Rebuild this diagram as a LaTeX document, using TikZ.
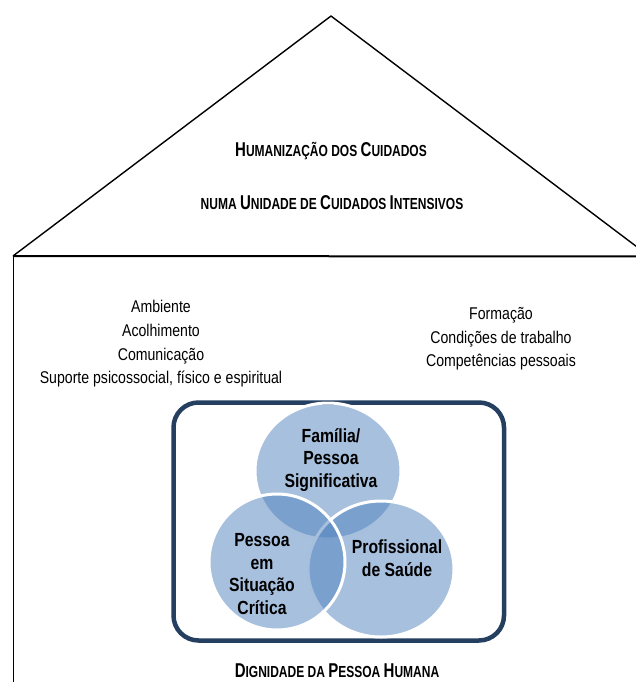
\documentclass[tikz,border=0pt]{standalone}
\usepackage{fontspec}
\setmainfont{Liberation Sans}
\newfontfamily\titlefont[FakeStretch=0.75]{Liberation Sans}
\newfontfamily\bodyfont[FakeStretch=0.83]{Liberation Sans}
\definecolor{framecol}{RGB}{36,63,96}
\definecolor{venncol}{RGB}{79,129,189}
% larger initial letter for the small-caps headings
\newcommand\Initial[1]{{\fontsize{20}{20}\selectfont #1}}
\begin{document}
\begin{tikzpicture}[x=1pt,y=-1pt,
  roofline/.style={line width=1.4pt, line join=round},
  floorline/.style={line width=2pt},
  wallline/.style={line width=1.6pt},
  headtext/.style={font={\titlefont\bfseries\fontsize{16}{16}\selectfont}, inner sep=0pt},
  listtext/.style={font={\bodyfont\fontsize{17}{23.6}\selectfont}, align=center, inner sep=0pt},
  framebox/.style={draw=framecol, line width=4.5pt, rounded corners=25pt},
  venncircle/.style={fill=venncol, fill opacity=0.5, draw=white, line width=3pt},
  venntext/.style={font={\bodyfont\bfseries\fontsize{19}{22.8}\selectfont}, align=center, inner sep=0pt}]
\useasboundingbox (0,0) rectangle (636,682);

% roof and walls
\coordinate (apex) at (331,16);
\coordinate (eaveL) at (13,256);
\coordinate (eaveR) at (649,256);
\coordinate (floorR) at (650,256.5);
\coordinate (ground) at (13.5,690);
\begin{scope}
  \clip (0,0) rectangle (636,682);
  \draw[roofline] (eaveL) -- (apex) -- (eaveR);
  \draw[floorline] (eaveL) -- (floorR);
  \draw[wallline] (13.5,256) -- (ground);
\end{scope}

% heading inside the roof
\node[headtext] (title1) at (331,151) {\Initial{H}UMANIZAÇÃO DOS \Initial{C}UIDADOS};
\node[headtext] (title2) at (332,203) {NUMA \Initial{U}NIDADE DE \Initial{C}UIDADOS \Initial{I}NTENSIVOS};

% lists of factors
\node[listtext] (leftlist) at (161,344) {Ambiente\\Acolhimento\\Comunicação\\Suporte psicossocial, físico e espiritual};
\node[listtext] (rightlist) at (501,339) {Formação\\Condições de trabalho\\Competências pessoais};

% venn diagram in its frame
\draw[framebox] (173.5,402.5) rectangle (504,640.5);
\coordinate (ctop) at (328,471);
\coordinate (cright) at (381,569);
\coordinate (cleft) at (277,562);
\path[venncircle] (ctop) ellipse [x radius=73, y radius=68];
\path[venncircle] (cright) ellipse [x radius=73, y radius=68];
\path[venncircle] (cleft) ellipse [x radius=68, y radius=68];

\node[venntext] (family) at (331,460) {Família/\\Pessoa\\Significativa};
\node[venntext] (patient) at (262,574) {Pessoa\\em\\Situação\\Crítica};
\node[venntext] (staff) at (397,558) {Profissional\\de Saúde};

% foundation
\node[headtext] (base) at (337,670.5) {\Initial{D}IGNIDADE DA \Initial{P}ESSOA \Initial{H}UMANA};
\end{tikzpicture}
\end{document}
